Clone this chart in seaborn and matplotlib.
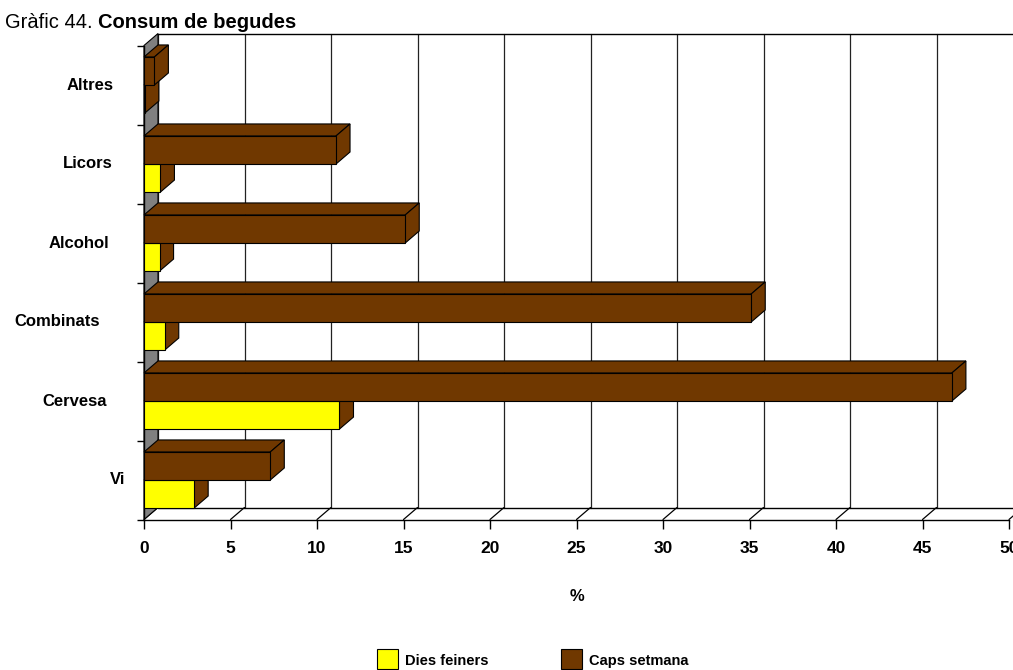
import pandas as pd
import seaborn as sns
from matplotlib import pyplot as plt
from matplotlib.patches import Polygon, Rectangle

begudes = ["Altres", "Licors", "Alcohol", "Combinats", "Cervesa", "Vi"]
dies_feiners = [0.05, 0.95, 0.9, 1.2, 11.3, 2.9]
caps_setmana = [0.6, 11.1, 15.1, 35.1, 46.7, 7.3]
xticks = [0, 5, 10, 15, 20, 25, 30, 35, 40, 45, 50]

GROC = "#ffff00"
MARRO = "#703800"
GRIS = "#808080"


def main() -> int:
    df = pd.DataFrame({
        "beguda": begudes * 2,
        "tipus": ["Caps setmana"] * 6 + ["Dies feiners"] * 6,
        "valor": caps_setmana + dies_feiners,
    })

    sns.set_style("white")
    plt.rcParams["font.family"] = ["Liberation Sans", "DejaVu Sans"]
    plt.rcParams["text.color"] = "black"
    plt.rcParams["axes.labelcolor"] = "black"
    plt.rcParams["xtick.color"] = "black"
    plt.rcParams["ytick.color"] = "black"

    W, H = 1013, 670
    fig = plt.figure(figsize=(W / 100, H / 100), dpi=100)
    ax = fig.add_axes([144 / W, 1 - 519.5 / H, 865 / W, 474 / H])

    sns.barplot(data=df, y="beguda", x="valor", hue="tipus", order=begudes,
                hue_order=["Caps setmana", "Dies feiners"],
                palette=[MARRO, GROC], saturation=1, width=0.71, gap=0,
                orient="h", edgecolor="black", linewidth=0.8,
                legend=False, ax=ax)

    ax.set_xlim(0, 50)
    ax.set_ylim(5.5, -0.5)

    # profunditat del 3D en unitats de dades
    dx = 14 / 865 * 50
    dy = 12 / 79

    for p in ax.patches[:]:
        x0, y0 = p.get_x(), p.get_y()
        w, h = p.get_width(), p.get_height()
        y1 = y0 + h
        z = 10 + (10 - (y0 + h / 2))
        p.set_zorder(z + 0.5)
        top = Polygon([(x0, y0), (x0 + w, y0), (x0 + w + dx, y0 - dy),
                       (x0 + dx, y0 - dy)], closed=True, facecolor=MARRO,
                      edgecolor="black", lw=0.8, zorder=z + 0.2, clip_on=False)
        side = Polygon([(x0 + w, y0), (x0 + w + dx, y0 - dy),
                        (x0 + w + dx, y1 - dy), (x0 + w, y1)], closed=True,
                       facecolor=MARRO, edgecolor="black", lw=0.8,
                       zorder=z + 0.2, clip_on=False)
        ax.add_patch(top)
        ax.add_patch(side)

    # paret esquerra grisa
    ax.add_patch(Polygon([(0, 5.5), (dx, 5.5 - dy), (dx, -0.5 - dy), (0, -0.5)],
                         closed=True, facecolor=GRIS, edgecolor="black",
                         lw=0.8, zorder=2, clip_on=False))

    # quadricula de fons i terra
    for v in xticks:
        ax.plot([v + dx, v + dx], [5.5 - dy, -0.5 - dy], color="#222222",
                lw=0.9, zorder=1, clip_on=False)
        ax.plot([v, v + dx], [5.5, 5.5 - dy], color="black", lw=0.9,
                zorder=1, clip_on=False)
    ax.plot([dx, 50 + dx], [5.5 - dy, 5.5 - dy], color="black", lw=1,
            zorder=1, clip_on=False)
    ax.plot([dx, 50 + dx], [-0.5 - dy, -0.5 - dy], color="black", lw=1,
            zorder=1, clip_on=False)

    sns.despine(ax=ax, top=True, right=True)
    for s in ["left", "bottom"]:
        ax.spines[s].set_linewidth(1)
        ax.spines[s].set_color("black")
        ax.spines[s].set_zorder(3)

    ax.set_xticks(xticks)
    ax.set_xticklabels([str(v) for v in xticks], fontsize=12.5,
                       fontweight="bold")
    ax.tick_params(axis="x", direction="out", length=6.5, width=1,
                   pad=9, bottom=True)

    ax.set_yticks([])
    ax.set_yticks([-0.5, 0.5, 1.5, 2.5, 3.5, 4.5, 5.5], minor=True)
    ax.tick_params(axis="y", which="minor", direction="out", length=5,
                   width=1, left=True)
    ax.set_ylabel("")
    ax.set_xlabel("%", fontsize=12, fontweight="bold", labelpad=24)

    # etiquetes de categoria
    dreta = [114, 113, 109, 100, 107, 125]
    for i, nom in enumerate(begudes):
        ax.text((dreta[i] - 144) / 865, i, nom, transform=ax.get_yaxis_transform(),
                ha="right", va="center", fontsize=12, fontweight="bold")

    # titol
    t1 = fig.text(5 / W, 1 - 22 / H, "Gràfic 44. ", fontsize=14.5,
                  ha="left", va="center")
    fig.canvas.draw()
    bb = t1.get_window_extent()
    fig.text(bb.x1 / W, 1 - 22 / H, "Consum de begudes", fontsize=14.5,
             fontweight="bold", ha="left", va="center")

    # llegenda
    for xpx, col, txt in [(377, GROC, "Dies feiners"),
                          (561, MARRO, "Caps setmana")]:
        fig.patches.append(Rectangle((xpx / W, 1 - 669 / H), 21 / W, 20 / H,
                                     transform=fig.transFigure,
                                     facecolor=col, edgecolor="black",
                                     lw=0.8))
        fig.text((xpx + 28) / W, 1 - 661 / H, txt, fontsize=10.5,
                 fontweight="bold", ha="left", va="center")

    fig.savefig("out.png", dpi=100)
    return 0


if __name__ == "__main__":
    raise SystemExit(main())
